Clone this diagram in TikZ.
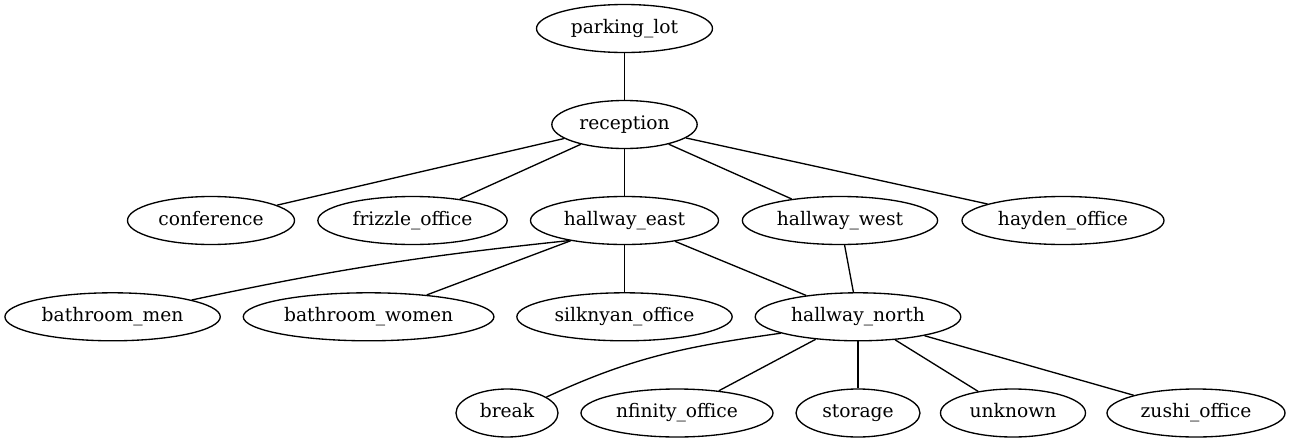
\documentclass[tikz,border=0pt]{standalone}
\usepackage{fontspec}
\setmainfont{DejaVu Serif}
\usetikzlibrary{shapes.geometric}
\tikzset{
  gv/.style={draw, ellipse, inner sep=0pt, line width=1pt, minimum height=36pt,
    text height=10.6pt, text depth=3.3pt,
    font=\fontsize{14pt}{17pt}\selectfont},
  gvedge/.style={line width=1pt}
}
\begin{document}
\begin{tikzpicture}[x=0.75pt, y=-0.75pt]
\useasboundingbox (0,0) rectangle (1290,443);
% row 0
\node[gv, minimum width=132pt] (parking) at (624.5,28.5) {parking\_lot};
% row 1
\node[gv, minimum width=109pt] (reception) at (624.5,124.5) {reception};
% row 2
\node[gv, minimum width=125.25pt] (conference) at (211,220.5) {conference};
\node[gv, minimum width=142pt] (frizzle) at (412.5,220.5) {frizzle\_office};
\node[gv, minimum width=141pt] (heast) at (624.5,220.5) {hallway\_east};
\node[gv, minimum width=146.4pt] (hwest) at (840,220.5) {hallway\_west};
\node[gv, minimum width=151.5pt] (hayden) at (1063,220.5) {hayden\_office};
% row 3
\node[gv, minimum width=161.5pt] (bmen) at (112.6,316.8) {bathroom\_men};
\node[gv, minimum width=188pt] (bwomen) at (368.6,316.8) {bathroom\_women};
\node[gv, minimum width=161.5pt] (silk) at (624.5,316.8) {silknyan\_office};
\node[gv, minimum width=154.2pt] (hnorth) at (858,316.8) {hallway\_north};
% row 4
\node[gv, minimum width=76.5pt] (break) at (507,413) {break};
\node[gv, minimum width=144pt] (nfinity) at (677,413) {nfinity\_office};
\node[gv, minimum width=93pt] (storage) at (858,413) {storage};
\node[gv, minimum width=108.75pt] (unknown) at (1013,413) {unknown};
\node[gv, minimum width=133.5pt] (zushi) at (1196,413) {zushi\_office};
% edges
\draw[gvedge] (parking) -- (reception);
\draw[gvedge] (reception) -- (conference);
\draw[gvedge] (reception) -- (frizzle);
\draw[gvedge] (reception) -- (heast);
\draw[gvedge] (reception) -- (hwest);
\draw[gvedge] (reception) -- (hayden);
\draw[gvedge] (heast.200) to[out=186, in=12] (bmen.12);
\draw[gvedge] (heast) -- (bwomen);
\draw[gvedge] (heast) -- (silk);
\draw[gvedge] (heast) -- (hnorth);
\draw[gvedge] (hwest) -- (hnorth);
\draw[gvedge] (hnorth.192) to[out=188, in=25] (break.22);
\draw[gvedge] (hnorth) -- (nfinity);
\draw[gvedge] (hnorth) -- (storage);
\draw[gvedge] (hnorth) -- (unknown);
\draw[gvedge] (hnorth) -- (zushi);
\end{tikzpicture}
\end{document}
